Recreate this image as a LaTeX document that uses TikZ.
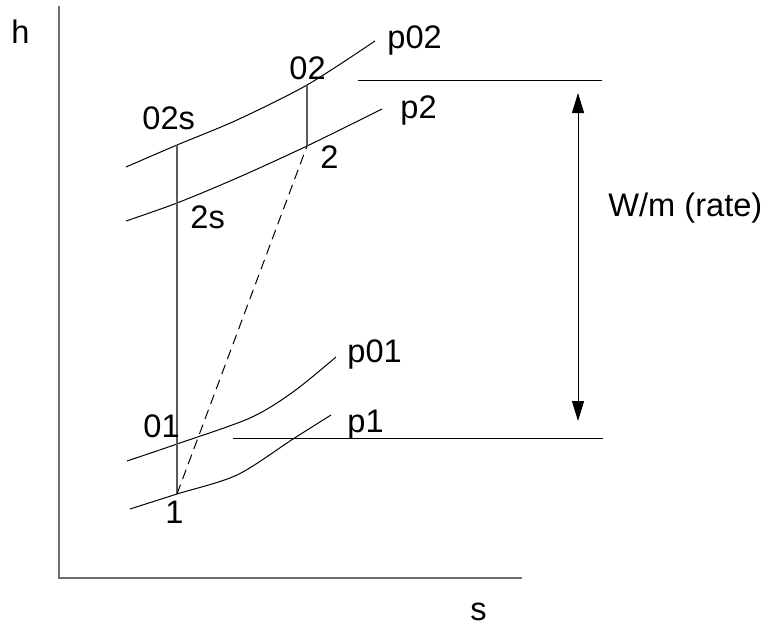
\documentclass[tikz,border=0pt]{standalone}
\usepackage{fontspec}
\setmainfont{Liberation Sans}
\usetikzlibrary{arrows.meta, positioning}
\definecolor{AxisGrey}{HTML}{707070}
\definecolor{StateGrey}{HTML}{5A5A5A}
\begin{document}
\begin{tikzpicture}[x=0.5pt,y=-0.5pt,font=\fontsize{16.3}{19}\selectfont,axisline/.style={draw=AxisGrey,line width=0.8pt},isobar/.style={draw=black,line width=0.5pt},stateline/.style={draw=StateGrey,line width=0.6pt},dashline/.style={draw=black,line width=0.5pt,dash pattern=on 5pt off 3pt},levelline/.style={draw=black,line width=0.5pt},workarrow/.style={{Triangle[length=10pt,width=6pt]}-{Triangle[length=10pt,width=6pt]},draw=black,line width=0.5pt},lbl/.style={anchor=base west,inner sep=0pt}]
\useasboundingbox (0,0) rectangle (765,627);
% axes
\coordinate (hTop) at (59,6);
\coordinate (O) at (59,578);
\coordinate (sEnd) at (522,578);
\draw[axisline] (hTop) -- (O) -- (sEnd);
\node[lbl] (hlabel) at (11,43) {h};
\node[lbl] (slabel) at (470,620) {s};
% state points
\coordinate (st02s) at (177,145);
\coordinate (st2s) at (177,203);
\coordinate (st02) at (307,85);
\coordinate (st2) at (307,146);
\coordinate (st01) at (177,444);
\coordinate (st1) at (177,494);
% isobars
\draw[isobar] plot[smooth] coordinates {(126,167) (st02s) (237,120) (st02) (375,41)};
\draw[isobar] plot[smooth] coordinates {(126,221) (st2s) (237,178) (st2) (382,109)};
\draw[isobar] plot[smooth] coordinates {(127,461) (st01) (250,418) (293,392) (336,357)};
\draw[isobar] plot[smooth] coordinates {(130,509) (st1) (237,475) (293,439) (331,415)};
% processes
\draw[stateline] (st1) -- (st02s);
\draw[stateline] (st2) -- (st02);
\draw[dashline] (st1) -- (st2);
% work levels
\coordinate (topA) at (358,80);
\coordinate (topB) at (602,80);
\coordinate (botA) at (233,438);
\coordinate (botB) at (603,438);
\draw[levelline] (topA) -- (topB);
\draw[levelline] (botA) -- (botB);
\coordinate (arrTop) at (578,93);
\coordinate (arrBot) at (578,421);
\draw[workarrow] (arrTop) -- (arrBot);
\node[lbl] (work) at (608,216) {W/m (rate)};
% labels
\node[lbl] (l02s) at (142,129) {02s};
\node[lbl] (l02) at (289,79) {02};
\node[lbl] (lp02) at (387,48) {p02};
\node[lbl] (lp2) at (400,118) {p2};
\node[lbl] (l2) at (320,168) {2};
\node[lbl] (l2s) at (190,228) {2s};
\node[lbl] (lp01) at (347,362) {p01};
\node[lbl] (l01) at (143,437) {01};
\node[lbl] (lp1) at (347,432) {p1};
\node[lbl] (l1) at (165,523) {1};
\end{tikzpicture}
\end{document}
